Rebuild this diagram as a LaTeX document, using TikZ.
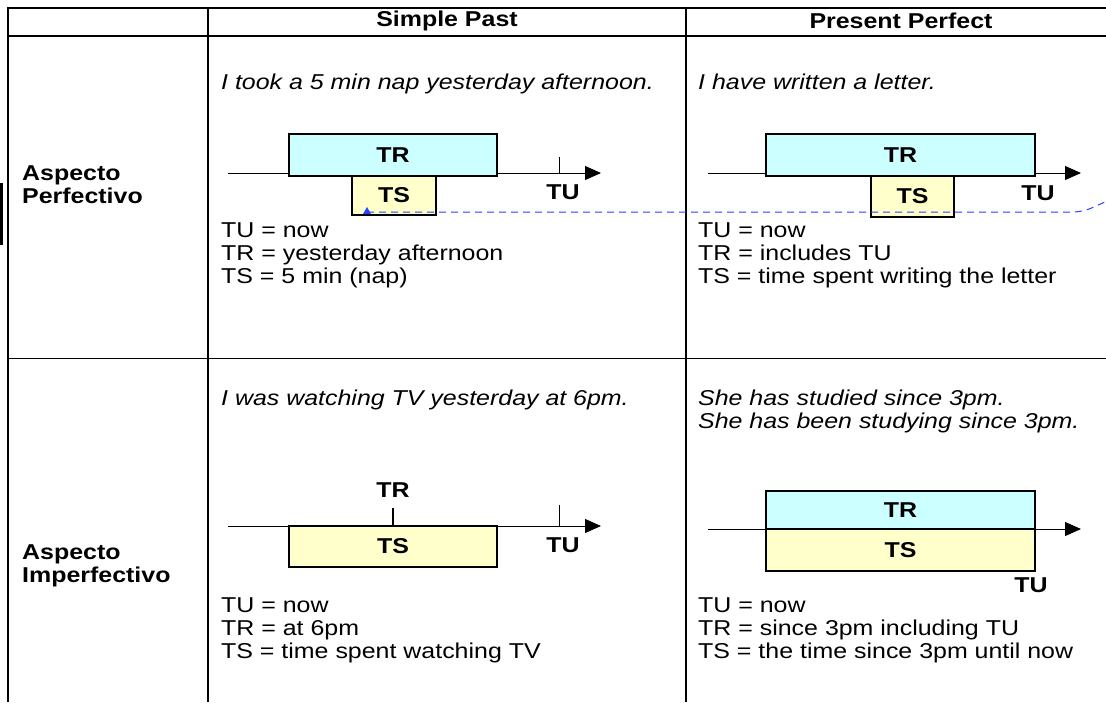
\documentclass[tikz,border=0pt]{standalone}
\usepackage{fontspec}
\setmainfont{Liberation Sans}[FakeStretch=1.16]
\usetikzlibrary{arrows.meta}

\newcommand{\txtsize}{\fontsize{21.5}{23}\selectfont}

\definecolor{trfill}{HTML}{CCFFFF}
\definecolor{tsfill}{HTML}{FFFFCC}
\definecolor{dashblue}{HTML}{2244FF}

\tikzset{
	every node/.style={font=\txtsize, inner sep=0pt},
	head/.style={font=\txtsize\bfseries},
	rowlabel/.style={font=\txtsize\bfseries, anchor=west, align=left},
	example/.style={font=\txtsize\itshape, anchor=north west, align=left},
	legend/.style={anchor=north west, align=left},
	trbox/.style={draw, line width=1.2pt, fill=trfill, font=\txtsize\bfseries},
	tsbox/.style={draw, line width=1.2pt, fill=tsfill, font=\txtsize\bfseries},
	timelabel/.style={font=\txtsize\bfseries},
	axis/.style={line width=1pt, -{Triangle[length=16pt,width=14pt]}},
	rule/.style={line width=1.6pt},
	trail/.style={dashblue, line width=1pt, dash pattern=on 7pt off 5pt},
}

\begin{document}
\begin{tikzpicture}[x=1pt, y=-1pt]
	\useasboundingbox (0,0) rectangle (1106,702);
	
	% table rules
	\draw[rule] (8,7) -- (8,702);
	\draw[rule] (208,7) -- (208,702);
	\draw[rule] (686,7) -- (686,702);
	\draw[line width=1.4pt] (7,8) -- (1106,8);
	\draw[rule] (7,36) -- (1106,36);
	\draw[line width=1pt] (7,358) -- (1106,358);
	\fill (0,183) rectangle (2.5,245);
	
	\node[head] (sp) at (447,21) {Simple Past};
	\node[head] (pp) at (901,21) {Present Perfect};
	
	\node[rowlabel] (perf) at (22,185) {Aspecto\\Perfectivo};
	\node[rowlabel] (imperf) at (22,566) {Aspecto\\Imperfectivo};
	
	% perfectivo / simple past
	\node[example] (ex1) at (221,74) {I took a 5 min nap yesterday afternoon.};
	\coordinate (a1s) at (228,173);
	\coordinate (a1e) at (601,173);
	\draw[axis] (a1s) -- (a1e);
	\node[trbox, minimum width=208pt, minimum height=42pt] (tr1) at (393,155) {TR};
	\node[tsbox, minimum width=84pt, minimum height=39pt] (ts1) at (394,195.5) {TS};
	\coordinate (tu1) at (559,173);
	\draw[line width=0.8pt] (tu1) -- ++(0,-16);
	\node[timelabel] (tul1) at (563,192) {TU};
	\node[legend] (leg1) at (221,223) {TU = now\\TR = yesterday afternoon\\TS = 5 min (nap)};
	
	% perfectivo / present perfect
	\node[example] (ex2) at (698,74) {I have written a letter.};
	\coordinate (a2s) at (708,173);
	\coordinate (a2e) at (1081,173);
	\draw[axis] (a2s) -- (a2e);
	\node[trbox, minimum width=269pt, minimum height=42pt] (tr2) at (900.5,155) {TR};
	\node[tsbox, minimum width=83pt, minimum height=41pt] (ts2) at (912.5,196.5) {TS};
	\node[timelabel] (tul2) at (1038,193) {TU};
	\node[legend] (leg2) at (698,223) {TU = now\\TR = includes TU\\TS = time spent writing the letter};
	
	% stray dashed trail
	\coordinate (ds) at (367,212);
	\coordinate (db) at (1072,212);
	\coordinate (de) at (1110,200);
	\draw[trail] (ds) -- (db) .. controls (1088,212) and (1094,206) .. (de);
	\fill[dashblue] (ds) ++(-4,2) -- ++(8,0) -- ++(-4,-7) -- cycle;
	
	% imperfectivo / simple past
	\node[example] (ex3) at (221,390) {I was watching TV yesterday at 6pm.};
	\coordinate (a3s) at (228,526);
	\coordinate (a3e) at (601,526);
	\draw[axis] (a3s) -- (a3e);
	\node[tsbox, minimum width=208pt, minimum height=41pt] (ts3) at (393,546.5) {TS};
	\coordinate (tr3) at (393,526);
	\draw[line width=2pt] (tr3) -- ++(0,-18);
	\node[timelabel] (trl3) at (393,490) {TR};
	\coordinate (tu3) at (559,526);
	\draw[line width=0.8pt] (tu3) -- ++(0,-21);
	\node[timelabel] (tul3) at (563,545) {TU};
	\node[legend] (leg3) at (221,597) {TU = now\\TR = at 6pm\\TS = time spent watching TV};
	
	% imperfectivo / present perfect
	\node[example] (ex4) at (698,390) {She has studied since 3pm.\\She has been studying since 3pm.};
	\coordinate (a4s) at (708,529);
	\coordinate (a4e) at (1081,529);
	\draw[axis] (a4s) -- (a4e);
	\node[trbox, minimum width=269pt, minimum height=38pt] (tr4) at (900.5,510) {TR};
	\node[tsbox, minimum width=269pt, minimum height=42pt] (ts4) at (900.5,550) {TS};
	\node[timelabel] (tul4) at (1031,585) {TU};
	\node[legend] (leg4) at (698,597) {TU = now\\TR = since 3pm including TU\\TS = the time since 3pm until now};
\end{tikzpicture}
\end{document}
